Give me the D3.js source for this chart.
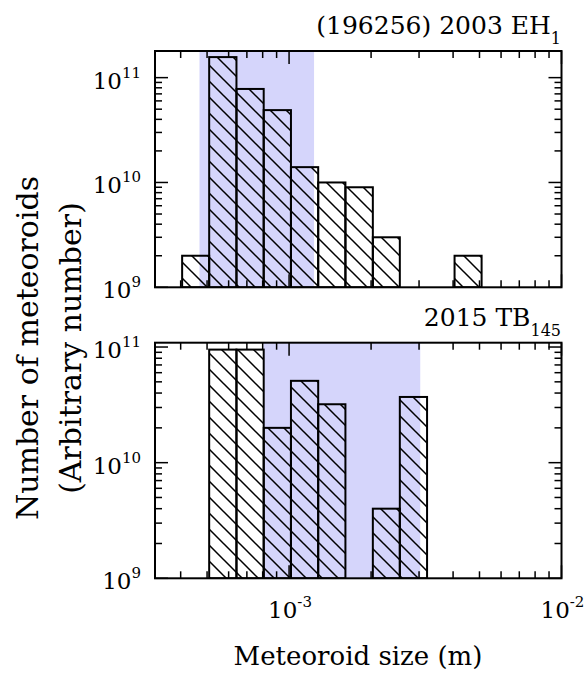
<!DOCTYPE html>
<html><head><meta charset="utf-8">
<script src="https://cdn.jsdelivr.net/npm/d3@7"></script>
<style>body{margin:0;background:#fff}svg{display:block}text{font-family:"DejaVu Serif",serif;fill:#000}</style>
</head><body>
<svg id="chart" width="585" height="673"></svg>
<script>
// ---- data ----
const binEdges = [4.05e-4, 5.09e-4, 6.41e-4, 8.07e-4, 1.016e-3, 1.279e-3, 1.61e-3, 2.03e-3, 2.55e-3, 3.21e-3, 4.05e-3, 5.09e-3];
const countsEH1 = [2e9, 1.57e11, 7.8e10, 4.9e10, 1.4e10, 1.0e10, 9e9, 3e9, null, null, 2e9];
const countsTB145 = [null, 9.5e10, 9.5e10, 2.0e10, 5.1e10, 3.2e10, null, 4e9, 3.7e10, null, null];
const shadeEH1 = [4.69e-4, 1.235e-3];
const shadeTB145 = [8.05e-4, 3.03e-3];
const xDomain = [3.22e-4, 1e-2];
const yDomainTop = [1e9, 1.795e11];
const yDomainBottom = [1e9, 1.09e11];
const xTickLabels = [{v:1e-3, base:"10", exp:"-3"}, {v:1e-2, base:"10", exp:"-2"}];
const yTickLabels = [{v:1e9, base:"10", exp:"9"}, {v:1e10, base:"10", exp:"10"}, {v:1e11, base:"10", exp:"11"}];
const titles = [{main:"(196256) 2003 EH", sub:"1"}, {main:"2015 TB", sub:"145"}];

// ---- layout ----
const svg = d3.select("#chart");
const L = 155, R = 561.5;
const panels = [
  {top:51, bottom:287.3, yDom:yDomainTop, counts:countsEH1, shade:shadeEH1, title:titles[0], xlabels:false},
  {top:342.7, bottom:578.3, yDom:yDomainBottom, counts:countsTB145, shade:shadeTB145, title:titles[1], xlabels:true}
];
const x = d3.scaleLog().domain(xDomain).range([L, R]);

const defs = svg.append("defs");
const hs = 16;
const pat = defs.append("pattern").attr("id","hatch").attr("patternUnits","userSpaceOnUse")
  .attr("width",hs).attr("height",hs);
pat.append("path").attr("d",`M0,0L${hs},${hs}M${-hs/2},${hs/2}L${hs/2},${hs*1.5}M${hs/2},${-hs/2}L${hs*1.5},${hs/2}`)
  .attr("stroke","#000").attr("stroke-width",1.5);

const tfs = 23, sfs = 15;
panels.forEach((p, i) => {
  const y = d3.scaleLog().domain(p.yDom).range([p.bottom, p.top]);
  const g = svg.append("g");
  const cid = "clip"+i;
  defs.append("clipPath").attr("id",cid).append("rect").attr("x",L).attr("y",p.top).attr("width",R-L).attr("height",p.bottom-p.top);
  g.append("rect").attr("x",x(p.shade[0])).attr("y",p.top).attr("width",x(p.shade[1])-x(p.shade[0]))
    .attr("height",p.bottom-p.top).attr("fill","rgb(213,213,251)");
  const bars = p.counts.map((c,k)=>({c, lo:binEdges[k], hi:binEdges[k+1]})).filter(d=>d.c);
  g.append("g").attr("clip-path",`url(#${cid})`).selectAll("rect").data(bars).join("rect")
    .attr("x",d=>x(d.lo)).attr("width",d=>x(d.hi)-x(d.lo))
    .attr("y",d=>y(d.c)).attr("height",d=>p.bottom-y(d.c))
    .attr("fill","url(#hatch)").attr("stroke","#000").attr("stroke-width",2);
  // ticks
  const tk = g.append("g").attr("stroke","#000").attr("stroke-width",1.5);
  const isMajor = v => Math.abs(Math.log10(v) - Math.round(Math.log10(v))) < 1e-6;
  x.ticks().forEach(v => {
    const len = isMajor(v) ? 13 : 7, xx = x(v);
    tk.append("line").attr("x1",xx).attr("x2",xx).attr("y1",p.bottom).attr("y2",p.bottom-len);
    tk.append("line").attr("x1",xx).attr("x2",xx).attr("y1",p.top).attr("y2",p.top+len);
  });
  y.ticks().forEach(v => {
    const len = isMajor(v) ? 13 : 7, yy = y(v);
    tk.append("line").attr("y1",yy).attr("y2",yy).attr("x1",L).attr("x2",L+len);
    tk.append("line").attr("y1",yy).attr("y2",yy).attr("x1",R).attr("x2",R-len);
  });
  g.append("rect").attr("x",L).attr("y",p.top).attr("width",R-L).attr("height",p.bottom-p.top)
    .attr("fill","none").attr("stroke","#000").attr("stroke-width",2);
  // y tick labels
  yTickLabels.forEach(t => {
    const tx = g.append("text").attr("x",141).attr("y",y(t.v)+11).attr("text-anchor","end").attr("font-size",tfs);
    tx.append("tspan").text(t.base);
    tx.append("tspan").attr("dy",-11).attr("font-size",sfs).text(t.exp);
  });
  if (p.xlabels) {
    xTickLabels.forEach(t => {
      const tx = g.append("text").attr("x",x(t.v)-21).attr("y",618).attr("text-anchor","start").attr("font-size",tfs);
      tx.append("tspan").text(t.base);
      tx.append("tspan").attr("dy",-11).attr("font-size",sfs).text(t.exp);
    });
  }
  // title
  const tt = g.append("text").attr("x",561).attr("y",p.top-17).attr("text-anchor","end").attr("font-size",25);
  tt.append("tspan").text(p.title.main);
  tt.append("tspan").attr("dy",10).attr("font-size",16).text(p.title.sub);
});

// axis labels
svg.append("text").attr("x",358).attr("y",665).attr("text-anchor","middle").attr("font-size",26)
  .text("Meteoroid size (m)");
const yl = svg.append("text").attr("transform","translate(38,348) rotate(-90)").attr("text-anchor","middle").attr("font-size",30);
yl.append("tspan").attr("x",0).attr("y",0).text("Number of meteoroids");
yl.append("tspan").attr("x",0).attr("y",43).text("(Arbitrary number)");
</script>
</body></html>
